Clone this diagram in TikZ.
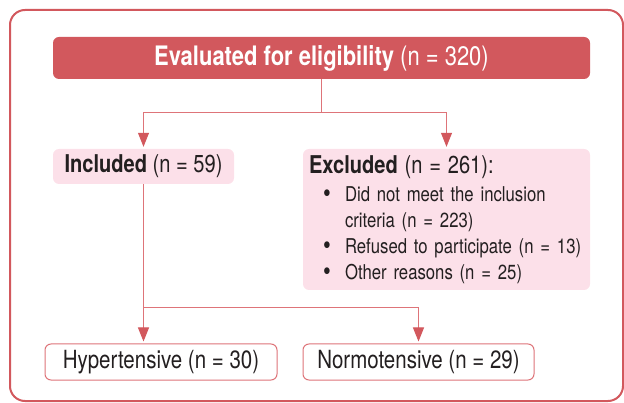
\documentclass[tikz,border=0pt]{standalone}
\usepackage{fontspec}
\setmainfont{TeX Gyre Heros}[FakeStretch=0.82]
\usetikzlibrary{arrows.meta}

\definecolor{brick}{HTML}{D2585D}
\definecolor{blush}{HTML}{FCE0E9}
\definecolor{ink}{HTML}{231F20}
\definecolor{wire}{HTML}{DE7479}

\newcommand{\bul}{\makebox[36pt][c]{\raisebox{-1.5pt}{\fontsize{27}{26}\selectfont\textbullet}}}

\begin{document}
\begin{tikzpicture}[x=1pt,y=-1pt]
    \useasboundingbox (0,0) rectangle (624,403);
    \draw[brick, line width=2pt, rounded corners=15pt] (10,10) rectangle (623,401);

    \begin{scope}[every node/.style={rounded corners=6pt, inner sep=0pt, text=ink}]
        \node[fill=brick, text=white, minimum width=537pt, minimum height=42pt,
              font=\fontsize{26.8}{28}\selectfont] (eval) at (321.5,58)
              {\textbf{Evaluated for eligibility} (n = 320)};

        \node[fill=blush, minimum width=181pt, minimum height=35pt,
              font=\fontsize{24.5}{26}\selectfont] (included) at (143.5,166.5)
              {\textbf{Included} (n = 59)};
        \node[fill=blush, minimum height=141pt, text width=275pt, inner xsep=6pt, align=left,
              font=\fontsize{20.4}{26}\selectfont] (excluded) at (446.5,219.5)
              {{\fontsize{24.5}{26}\selectfont\textbf{Excluded} (n = 261):}\\[2pt]
               \bul Did not meet the inclusion\\
               \hspace*{36pt}criteria (n = 223)\\
               \bul Refused to participate (n = 13)\\
               \bul Other reasons (n = 25)};

        \node[draw=wire, fill=white, line width=1pt, minimum width=232pt, minimum height=36pt,
              font=\fontsize{25}{26}\selectfont] (hyper) at (161,362) {Hypertensive (n = 30)};
        \node[draw=wire, fill=white, line width=1pt, minimum width=231pt, minimum height=36pt,
              font=\fontsize{25}{26}\selectfont] (normo) at (418.5,362) {Normotensive (n = 29)};
    \end{scope}

    \coordinate (fork1) at (321.5,113);
    \coordinate (fork2) at (143.5,308);

    \begin{scope}[every path/.style={draw=wire, line width=1pt},
                  arr/.style={-{Triangle[length=14pt,width=11pt,fill=brick,color=brick]}, shorten >=2pt}]
        \path (eval.south) -- (fork1);
        \path[arr] (fork1) -| (included.north);
        \path[arr] (fork1) -| (excluded.north);
        \path (included.south) -- (fork2);
        \path[arr] (fork2) -- (fork2 |- hyper.north);
        \path[arr] (fork2) -| (normo.north);
    \end{scope}
\end{tikzpicture}
\end{document}
